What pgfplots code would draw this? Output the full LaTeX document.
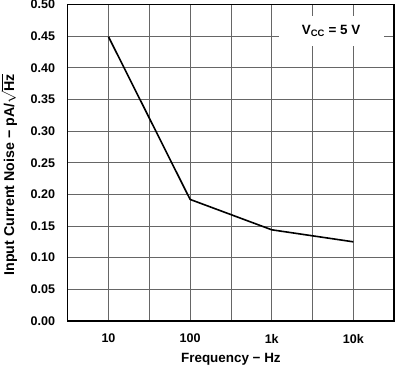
\documentclass[border=0pt]{standalone}
\usepackage{fontspec}
\setmainfont{Liberation Sans}
\usepackage{pgfplots}
\pgfplotsset{compat=1.18}
\newcommand{\lf}{\bfseries\fontsize{12.5}{14}\selectfont}
\newcommand{\xf}{\bfseries\fontsize{13.4}{15}\selectfont}
\newcommand{\yf}{\bfseries\fontsize{14.2}{16}\selectfont}
\begin{document}
\begin{tikzpicture}
\begin{axis}[
  scale only axis, width=326pt, height=316pt,
  xmode=log, xmin=3.16228, xmax=31622.8,
  ymin=0, ymax=0.5,
  xtick={10,100,1000,10000},
  xticklabels={10,100,1k,10k},
  minor xtick={31.6228,316.228,3162.28},
  ytick={0,0.05,0.1,0.15,0.2,0.25,0.3,0.35,0.4,0.45,0.5},
  yticklabels={0.00,0.05,0.10,0.15,0.20,0.25,0.30,0.35,0.40,0.45,0.50},
  tick label style={font=\lf},
  xticklabel style={yshift=-9.5pt},
  yticklabel style={xshift=-9pt, inner ysep=0pt},
  major tick length=0pt, minor tick length=0pt,
  grid=both,
  major grid style={black!60, line width=0.6pt},
  minor grid style={black!60, line width=0.6pt},
  axis line style={line width=1.6pt},
  xlabel={\xf Frequency − Hz},
  ylabel={\yf Input Current Noise − pA/$\sqrt{\mbox{\yf Hz}}$},
  xlabel style={yshift=-7pt, inner ysep=0pt},
  ylabel style={yshift=9pt, xshift=-12pt, inner ysep=1pt},
  clip=false,
]
\addplot[black, line width=1.6pt] coordinates {(10,0.449) (100,0.192) (1000,0.144) (10000,0.125)};
\node[fill=white, minimum width=105pt, minimum height=30pt, inner sep=0pt,
  font=\xf] at (axis cs:5333,0.458) {V\textsubscript{CC} = 5 V};
\end{axis}
\end{tikzpicture}
\end{document}
